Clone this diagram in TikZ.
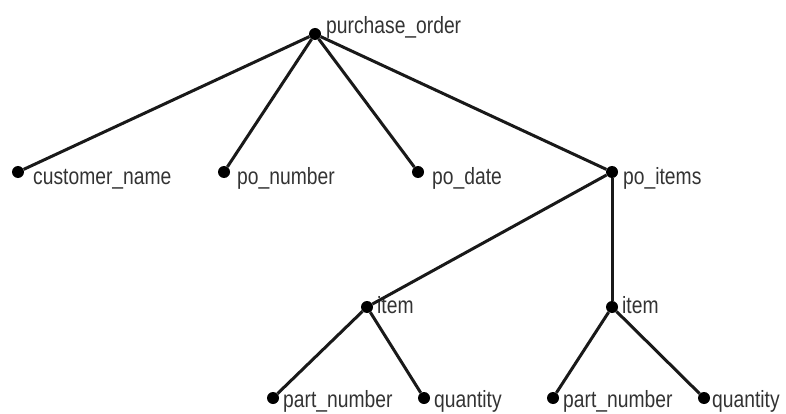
\documentclass[tikz,border=0pt]{standalone}
\usepackage{fontspec}
\setmainfont{Liberation Sans}[FakeStretch=0.82]
\usetikzlibrary{positioning,calc}

\tikzset{
  treedot/.style={shape=circle, fill=black, inner sep=0pt, minimum size=12pt},
  tag/.style={anchor=base west, inner sep=0pt, text=black!80, font=\fontsize{23.5}{27}\selectfont},
  branch/.style={line width=3pt, black!90}
}

\begin{document}
\begin{tikzpicture}[x=1pt,y=-1pt]
\useasboundingbox (0,0) rectangle (786,414);

\node[treedot] (po) at (315,34) {};
\node[treedot] (cn) at (18,172) {};
\node[treedot] (pn) at (224,172) {};
\node[treedot] (pd) at (418,172) {};
\node[treedot] (pi) at (612,172) {};
\node[treedot] (it1) at (367,307) {};
\node[treedot] (it2) at (612,307) {};
\node[treedot] (pa1) at (273,398) {};
\node[treedot] (qu1) at (424,398) {};
\node[treedot] (pa2) at (553,398) {};
\node[treedot] (qu2) at (704,398) {};

\node[tag] (po-t) at ($(po)+(11,0)$) {purchase\_order};
\node[tag] (cn-t) at ($(cn)+(15,12)$) {customer\_name};
\node[tag] (pn-t) at ($(pn)+(13,12)$) {po\_number};
\node[tag] (pd-t) at ($(pd)+(14,12)$) {po\_date};
\node[tag] (pi-t) at ($(pi)+(11,12)$) {po\_items};
\node[tag] (it1-t) at ($(it1)+(10,6)$) {item};
\node[tag] (it2-t) at ($(it2)+(10,6)$) {item};
\node[tag] (pa1-t) at ($(pa1)+(10,9)$) {part\_number};
\node[tag] (qu1-t) at ($(qu1)+(10,9)$) {quantity};
\node[tag] (pa2-t) at ($(pa2)+(10,9)$) {part\_number};
\node[tag] (qu2-t) at ($(qu2)+(8,9)$) {quantity};

\draw [branch] (po) -- (cn);
\draw [branch] (po) -- (pn);
\draw [branch] (po) -- (pd);
\draw [branch] (po) -- (pi);
\draw [branch] (pi) -- (it1);
\draw [branch] (pi) -- (it2);
\draw [branch] (it1) -- (pa1);
\draw [branch] (it1) -- (qu1);
\draw [branch] (it2) -- (pa2);
\draw [branch] (it2) -- (qu2);
\end{tikzpicture}
\end{document}
